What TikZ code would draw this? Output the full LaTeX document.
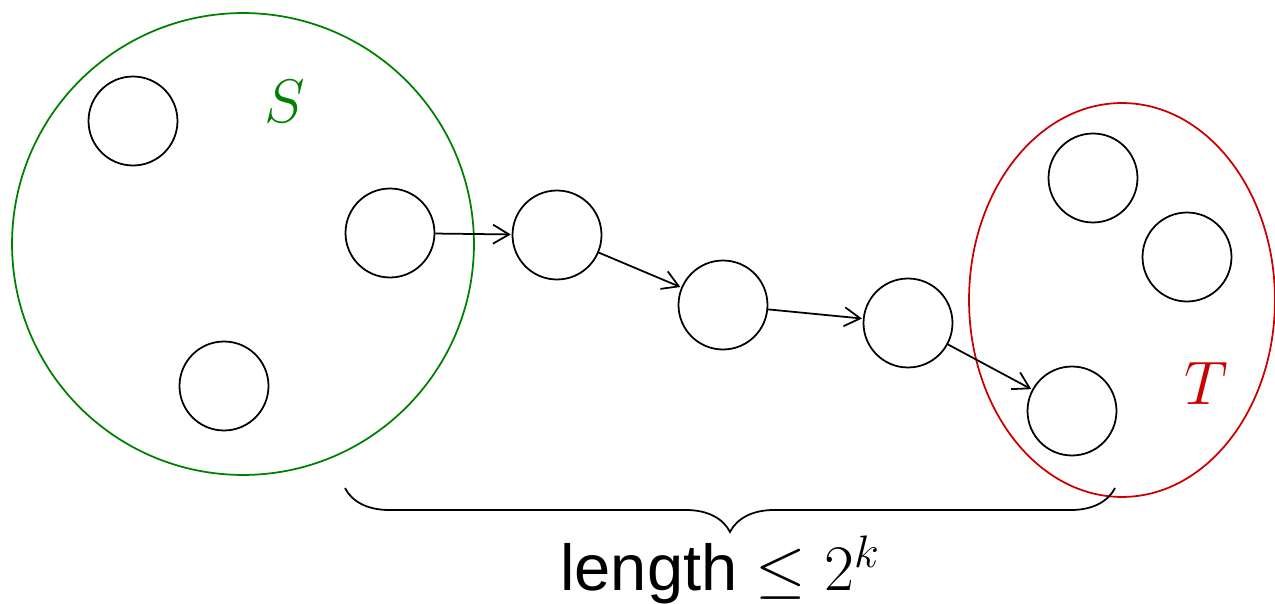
\documentclass[tikz,border=0pt]{standalone}
\usepackage{fix-cm}
\usepackage{fontspec}
\setsansfont{Liberation Sans}
\usetikzlibrary{arrows.meta,decorations.pathreplacing}
\definecolor{setgreen}{RGB}{0,128,0}
\definecolor{setred}{RGB}{204,0,0}
\tikzset{
  vert/.style={draw,circle,line width=1pt,minimum size=1.78cm,inner sep=0pt},
  hop/.style={line width=1pt,-{Straight Barb[length=3.2mm,width=3.8mm]},shorten >=0.5pt},
  setname/.style={font=\fontsize{35}{40}\selectfont}
}
\begin{document}
\begin{tikzpicture}[x=0.02cm,y=-0.02cm]
  \useasboundingbox (0,0) rectangle (1275,604);
  % the two sets
  \draw[setgreen,line width=1pt] (243,244) circle[radius=4.62cm];
  \draw[setred,line width=1pt] (1122,300) ellipse[x radius=3.06cm,y radius=3.94cm];
  \node[setname,text=setgreen] (sname) at (285,101) {$S$};
  \node[setname,text=setred] (tname) at (1206,383) {$T$};
  % vertices
  \node[vert] (s1) at (133,121) {};
  \node[vert] (s2) at (390,233) {};
  \node[vert] (s3) at (224,386) {};
  \node[vert] (p1) at (557,235) {};
  \node[vert] (p2) at (723,305) {};
  \node[vert] (p3) at (908,323) {};
  \node[vert] (t1) at (1093,178) {};
  \node[vert] (t2) at (1187,257) {};
  \node[vert] (t3) at (1072,411) {};
  % the path
  \draw[hop] (s2) -- (p1);
  \draw[hop] (p1) -- (p2);
  \draw[hop] (p2) -- (p3);
  \draw[hop] (p3) -- (t3);
  % brace
  \coordinate (bl) at (345,488);
  \coordinate (br) at (1115,488);
  \draw[line width=1pt,decorate,decoration={brace,mirror,amplitude=0.88cm}] (bl) -- (br);
  \node[font=\sffamily\fontsize{37}{40}\selectfont] (len) at (720,570) {length $\leq 2^{k}$};
\end{tikzpicture}
\end{document}
